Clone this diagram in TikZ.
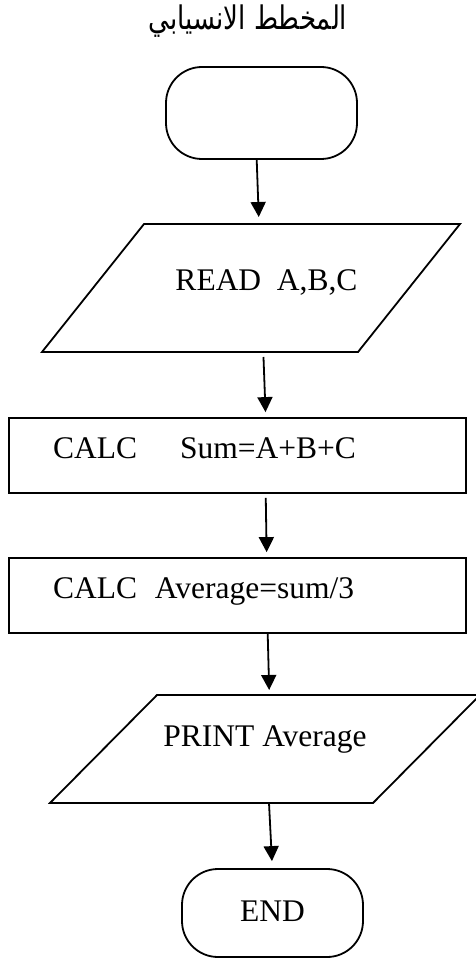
\documentclass[tikz,border=0pt]{standalone}
\usepackage{fontspec}
\setmainfont{Liberation Serif}
\newfontfamily\arabicfont[Script=Arabic]{DejaVu Sans}
\TeXXeTstate=1
\usetikzlibrary{arrows.meta,calc}

\begin{document}
\begin{tikzpicture}[x=1pt,y=-1pt,line width=1.8pt,
    font=\fontsize{31.5}{36}\selectfont,
    terminal/.style={draw,rectangle,rounded corners=36pt},
    entrada/.style={rectangle,outer sep=0pt,text height=21pt},
    proceso/.style={draw,rectangle,minimum width=457pt,minimum height=75pt,
      text width=369pt,inner xsep=44pt,align=left,text height=21pt,text depth=16pt},
    flecha/.style={-{Triangle[length=15pt,width=15pt]}}]
  \useasboundingbox (0,0) rectangle (475,960);

  % Centros de las figuras
  \coordinate (I) at (261.5,113);
  \coordinate (L) at (251,288);
  \coordinate (S) at (237.5,455.5);
  \coordinate (P) at (237.5,595.5);
  \coordinate (E) at (265,749);
  \coordinate (F) at (272.5,913);

  % Titulo
  \node[anchor=base] (titulo) at (248,30)
    {\scalebox{1}[1.25]{\arabicfont\fontsize{26}{30}\selectfont\beginR المخطط الانسيابي\endR}};

  % Dibuja las figuras del diagrama
  \node[terminal,minimum width=191pt,minimum height=92pt] (ini) at (I) {};
  \node[entrada,minimum width=316pt,minimum height=128pt,text depth=16pt]
    (leer) at (L) {\hspace*{31pt}READ\ \ A,B,C};
  \node[proceso] (suma) at (S) {CALC\hspace{43pt}Sum=A+B+C};
  \node[proceso] (prom) at (P) {CALC\hspace{18pt}Average=sum/3};
  \node[entrada,minimum width=323pt,minimum height=108pt,text depth=26pt]
    (impr) at (E) {PRINT Average};
  \node[terminal,minimum width=181pt,minimum height=88pt,
    text height=21pt,text depth=5pt] (fin) at (F) {END};

  % Dibuja los paralelogramos de entrada y salida
  \draw ([xshift=51pt]leer.north west) -- ([xshift=51pt]leer.north east)
    -- ([xshift=-51pt]leer.south east) -- ([xshift=-51pt]leer.south west) -- cycle;
  \draw ([xshift=53.5pt]impr.north west) -- ([xshift=53.5pt]impr.north east)
    -- ([xshift=-53.5pt]impr.south east) -- ([xshift=-53.5pt]impr.south west) -- cycle;

  % Dibuja las flechas entre las figuras
  \draw[flecha,shorten >=7pt] ($(ini.south)+(-4.8,0)$) -- ($(leer.north)+(8,0)$);
  \draw[flecha,shorten <=5pt,shorten >=5pt] ($(leer.south)+(12.3,0)$) -- ($(suma.north)+(28.2,0)$);
  \draw[flecha,shorten <=4pt,shorten >=5pt] ($(suma.south)+(28.2,0)$) -- ($(prom.north)+(29.2,0)$);
  \draw[flecha,shorten >=5pt] ($(prom.south)+(30.2,0)$) -- ($(impr.north)+(4.3,0)$);
  \draw[flecha,shorten <=1pt,shorten >=7pt] ($(impr.south)+(4,0)$) -- ($(fin.north)+(-0.2,0)$);
\end{tikzpicture}
\end{document}
